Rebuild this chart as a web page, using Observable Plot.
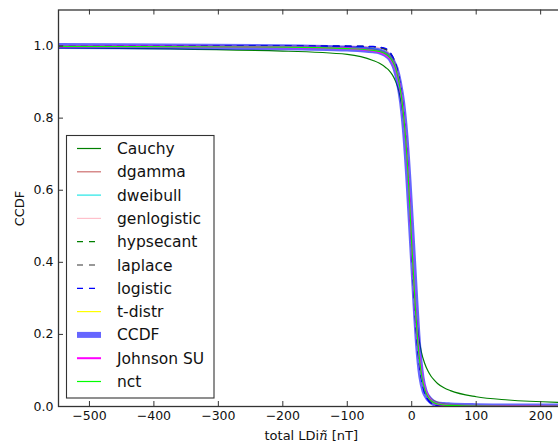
<!DOCTYPE html>
<html><head><meta charset="utf-8">
<script src="https://cdn.jsdelivr.net/npm/d3@7"></script>
<script src="https://cdn.jsdelivr.net/npm/@observablehq/plot@0.6"></script>
<style>
html,body{margin:0;padding:0;overflow:hidden;background:#fff;}
#wrap{position:relative;width:564px;height:446px;font-family:"DejaVu Sans",sans-serif;}
#wrap svg{display:block;}
.lab{position:absolute;font-size:13px;color:#111;white-space:nowrap;}
</style></head><body><div id="wrap"></div>
<script>
// ---- data ----
const xs        = [-550, -200, -100, -60, -50, -40, -35, -30, -25, -20, -15, -10, -5, 0, 5, 10, 15, 20, 25, 30, 35, 40, 50, 60, 100, 150, 240];
const cauchy    = [0.995, 0.986, 0.977, 0.960, 0.952, 0.940, 0.932, 0.920, 0.902, 0.875, 0.830, 0.752, 0.624, 0.444, 0.292, 0.203, 0.151, 0.120, 0.099, 0.084, 0.073, 0.064, 0.052, 0.044, 0.027, 0.018, 0.011];
const dgamma    = [1.0, 0.999, 0.996, 0.990, 0.986, 0.978, 0.970, 0.958, 0.937, 0.902, 0.846, 0.758, 0.628, 0.45, 0.29, 0.168, 0.092, 0.048, 0.026, 0.015, 0.009, 0.005, 0.002, 0.001, 0, 0, 0];
const dweibull  = [1.0, 0.999, 0.997, 0.992, 0.988, 0.980, 0.972, 0.960, 0.940, 0.905, 0.848, 0.757, 0.625, 0.45, 0.29, 0.17, 0.095, 0.05, 0.028, 0.016, 0.009, 0.005, 0.002, 0.001, 0, 0, 0];
const genlogistic = [1.0, 1.0, 0.999, 0.998, 0.995, 0.988, 0.981, 0.968, 0.947, 0.91, 0.85, 0.757, 0.62, 0.45, 0.29, 0.165, 0.088, 0.045, 0.023, 0.012, 0.006, 0.003, 0.001, 0.0003, 0, 0, 0];
const hypsecant = [1.0, 1.0, 0.9995, 0.998, 0.996, 0.99, 0.983, 0.97, 0.948, 0.91, 0.853, 0.764, 0.632, 0.44, 0.27, 0.15, 0.08, 0.04, 0.02, 0.01, 0.005, 0.0025, 0.0006, 0.0002, 0, 0, 0];
const laplace   = [1.0, 1.0, 0.9995, 0.998, 0.996, 0.991, 0.985, 0.972, 0.952, 0.917, 0.86, 0.77, 0.64, 0.43, 0.26, 0.145, 0.078, 0.04, 0.021, 0.011, 0.006, 0.003, 0.0008, 0.0002, 0, 0, 0];
const logistic  = [1.0, 1.0, 1.0, 0.999, 0.997, 0.993, 0.986, 0.972, 0.950, 0.912, 0.855, 0.765, 0.630, 0.445, 0.28, 0.155, 0.078, 0.037, 0.018, 0.008, 0.0036, 0.0017, 0.0004, 0.0001, 0, 0, 0];
const tdistr    = [0.9995, 0.998, 0.995, 0.99, 0.987, 0.981, 0.975, 0.965, 0.945, 0.91, 0.85, 0.75, 0.61, 0.44, 0.29, 0.165, 0.09, 0.052, 0.033, 0.022, 0.016, 0.012, 0.008, 0.006, 0.003, 0.0015, 0.001];
const ccdf      = [1.0, 0.997, 0.993, 0.988, 0.985, 0.977, 0.970, 0.957, 0.937, 0.900, 0.845, 0.755, 0.625, 0.47, 0.31, 0.168, 0.082, 0.042, 0.025, 0.015, 0.009, 0.006, 0.004, 0.003, 0.001, 0.0, 0.0];
const johnsonSU = [0.999, 0.997, 0.993, 0.987, 0.983, 0.975, 0.968, 0.956, 0.936, 0.902, 0.848, 0.760, 0.628, 0.455, 0.295, 0.172, 0.095, 0.052, 0.029, 0.017, 0.010, 0.007, 0.004, 0.002, 0.001, 0.0005, 0.0003];
const nct       = [0.999, 0.997, 0.993, 0.988, 0.985, 0.977, 0.970, 0.958, 0.938, 0.902, 0.846, 0.756, 0.624, 0.452, 0.293, 0.168, 0.09, 0.048, 0.027, 0.016, 0.01, 0.007, 0.004, 0.003, 0.001, 0.0005, 0.0003];

const seriesNames = ["Cauchy", "dgamma", "dweibull", "genlogistic", "hypsecant", "laplace", "logistic", "t-distr", "CCDF", "Johnson SU", "nct"];
const seriesValues = [cauchy, dgamma, dweibull, genlogistic, hypsecant, laplace, logistic, tdistr, ccdf, johnsonSU, nct];
const xTicks = [-500, -400, -300, -200, -100, 0, 100, 200];
const yTicks = [0.0, 0.2, 0.4, 0.6, 0.8, 1.0];
const xLabel = "total LDi";
const xLabelMath = "ñ";
const xLabelUnit = " [nT]";
const yLabel = "CCDF";

// ---- styles ----
const styles = {
  "Cauchy":      {stroke: "#008000", width: 1.2},
  "dgamma":      {stroke: "#cd6f6f", width: 1.2},
  "dweibull":    {stroke: "#22e6e6", width: 1.2},
  "genlogistic": {stroke: "#ffc0cb", width: 1.2},
  "hypsecant":   {stroke: "#008000", width: 1.2, dash: "6,6"},
  "laplace":     {stroke: "#333333", width: 1.2, dash: "6,6"},
  "logistic":    {stroke: "#0000ff", width: 1.2, dash: "6,6"},
  "t-distr":     {stroke: "#ffff00", width: 1.2},
  "CCDF":        {stroke: "#0000ff", width: 6, opacity: 0.6},
  "Johnson SU":  {stroke: "#ff00ff", width: 2},
  "nct":         {stroke: "#00ff00", width: 1.2}
};

const W = 564, H = 446;
const mL = 58, mT = 9.5, mR = 0, mB = 40;
const innerW = W - mL - mR, innerH = H - mT - mB;

const rows = [];
seriesNames.forEach((name, i) => seriesValues[i].forEach((v, j) => rows.push({name, x: xs[j], y: v})));

const lineMarks = seriesNames.map(name => {
  const s = styles[name];
  return Plot.line(rows.filter(r => r.name === name), {
    x: "x", y: "y", stroke: s.stroke, strokeWidth: s.width,
    strokeDasharray: s.dash || null, strokeOpacity: s.opacity || 1,
    curve: "monotone-x", clip: true
  });
});

const chart = Plot.plot({
  width: W, height: H,
  marginLeft: mL, marginTop: mT, marginRight: mR, marginBottom: mB,
  style: {fontFamily: "DejaVu Sans", fontSize: "12.5px", color: "#111", background: "white", overflow: "visible"},
  x: {domain: [-548, 237], ticks: xTicks, tickSize: 0, tickPadding: 5, label: null},
  y: {domain: [0, 1.1], ticks: yTicks, tickSize: 0, tickPadding: 5, tickFormat: ".1f", label: null},
  marks: [
    ...lineMarks,
    Plot.tickX(xTicks, {x: d => d, insetTop: innerH - 5, stroke: "#333"}),
    Plot.tickX(xTicks, {x: d => d, insetBottom: innerH - 5, stroke: "#333"}),
    Plot.tickY(yTicks, {y: d => d, insetRight: innerW - 5, stroke: "#333"}),
    Plot.frame({stroke: "#333", strokeWidth: 1.3})
  ]
});
const wrap = document.getElementById("wrap");
wrap.appendChild(chart);

// axis labels
const xl = document.createElement("div");
xl.className = "lab";
xl.appendChild(document.createTextNode(xLabel));
const it = document.createElement("i"); it.textContent = xLabelMath; it.style.fontFamily = "DejaVu Serif";
xl.appendChild(it);
xl.appendChild(document.createTextNode(xLabelUnit));
wrap.appendChild(xl);
xl.style.left = (311.5 - xl.offsetWidth / 2) + "px";
xl.style.top = (435 - xl.offsetHeight / 2) + "px";

const yl = document.createElement("div");
yl.className = "lab";
yl.textContent = yLabel;
wrap.appendChild(yl);
yl.style.left = (20 - yl.offsetWidth / 2) + "px";
yl.style.top = (208 - yl.offsetHeight / 2) + "px";
yl.style.transform = "rotate(-90deg)";

// legend
const leg = d3.select(wrap).append("svg")
  .attr("width", W).attr("height", H)
  .style("position", "absolute").style("left", "0px").style("top", "0px")
  .style("pointer-events", "none");
leg.append("rect").attr("x", 66.5).attr("y", 135.5).attr("width", 147.5).attr("height", 262.5)
  .attr("fill", "white").attr("stroke", "#333").attr("stroke-width", 1.1);
seriesNames.forEach((name, i) => {
  const s = styles[name];
  const y = 148.5 + i * 23.3;
  leg.append("line").attr("x1", 77).attr("x2", 101).attr("y1", y).attr("y2", y)
    .attr("stroke", s.stroke).attr("stroke-width", s.width)
    .attr("stroke-opacity", s.opacity || 1)
    .attr("stroke-dasharray", s.dash || null);
  leg.append("text").attr("x", 117).attr("y", y).attr("dy", "0.36em")
    .attr("font-family", "DejaVu Sans").attr("font-size", "15.5px").attr("fill", "#111")
    .text(name);
});
</script>
</body></html>
